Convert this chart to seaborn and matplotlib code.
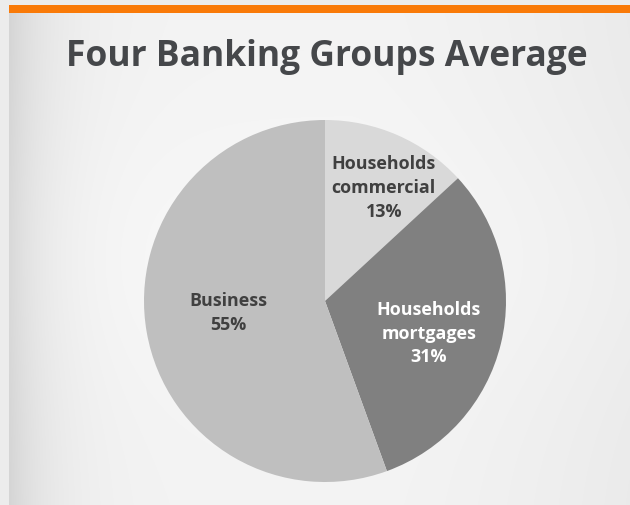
import numpy as np
import matplotlib
matplotlib.use("Agg")
import matplotlib.pyplot as plt
from matplotlib.patches import Rectangle
import seaborn as sns

sns.set_theme(style="white")
plt.rcParams["font.family"] = ["Open Sans", "DejaVu Sans"]

# Loan book composition
categories = ["Households\ncommercial", "Households\nmortgages", "Business"]
shares = [13, 31, 55]
slice_colors = ["#d9d9d9", "#808080", "#bfbfbf"]
label_colors = ["#404040", "#ffffff", "#404040"]
label_radius = [0.71, 0.59, 0.54]
label_shift = [(0.04, -0.02), (0.0, -0.035), (0.0, 0.035)]
title = "Four Banking Groups Average"

W, H = 630, 506
fig = plt.figure(figsize=(W / 100, H / 100), dpi=100)
fig.patch.set_facecolor("#ececec")

# Shaded backdrop panel below the orange strip
bg = fig.add_axes([9 / W, 0, 1 - 9 / W, (H - 14) / H], zorder=0)
nx, ny = 400, 200
xs = np.linspace(0, 1, nx)
ys = np.linspace(0, 1, ny)
horiz = 0.955 - 0.12 * np.exp(-xs / 0.07) - 0.035 * np.clip((xs - 0.55) / 0.45, 0, 1) ** 1.5
vert = 0.015 * np.exp(-((ys - 0.5) / 0.3) ** 2)
shade = np.clip(horiz[None, :] + vert[:, None], 0, 1)
bg.imshow(np.dstack([shade] * 3), aspect="auto", extent=[0, 1, 0, 1], interpolation="bilinear")
bg.set_axis_off()

fig.patches.append(Rectangle((9 / W, 1 - 14 / H), 1 - 9 / W, 8 / H,
                             transform=fig.transFigure, facecolor="#f97a08",
                             edgecolor="none", zorder=1))

fig.text(327 / W, 1 - 57 / H, title, ha="center", va="center",
         fontsize=25.5, fontweight="bold", color="#45474a", zorder=3)

# Pie
ax = fig.add_axes([144 / W, (H - 483) / H, 362 / W, 362 / H], zorder=2)
ax.set_facecolor("none")
wedges, _ = ax.pie(shares, colors=slice_colors, startangle=90, counterclock=False,
                   radius=1.0, wedgeprops=dict(linewidth=0))
for w, cat, val, col, r, (sx, sy) in zip(wedges, categories, shares, label_colors,
                                         label_radius, label_shift):
    mid = np.deg2rad((w.theta1 + w.theta2) / 2)
    ax.text(r * np.cos(mid) + sx, r * np.sin(mid) + sy, f"{cat}\n{val}%",
            ha="center", va="center", fontsize=12.9, fontweight="bold",
            color=col, linespacing=1.42)
ax.set_xlim(-1, 1)
ax.set_ylim(-1, 1)
ax.set_axis_off()

fig.savefig("out.png", dpi=100, facecolor=fig.get_facecolor())
